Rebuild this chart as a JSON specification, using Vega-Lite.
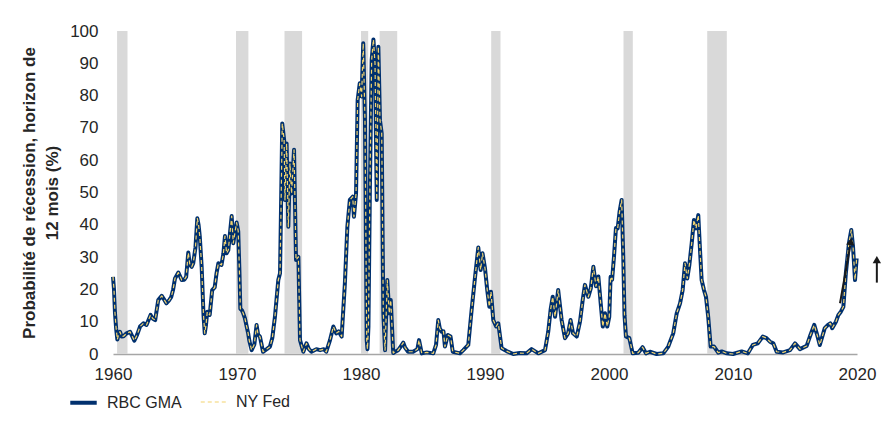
{
  "$schema": "https://vega.github.io/schema/vega-lite/v6.json",
  "description": "Probabilité de récession à 12 mois, RBC GMA vs NY Fed",
  "autosize": "none",
  "width": 744,
  "height": 323,
  "padding": {"left": 113, "top": 31, "right": 38, "bottom": 79},
  "datasets": {
    "recessions": [
      {"start": 1960.33, "end": 1961.17},
      {"start": 1969.92, "end": 1970.92},
      {"start": 1973.83, "end": 1975.25},
      {"start": 1980.0, "end": 1980.58},
      {"start": 1981.5, "end": 1982.92},
      {"start": 1990.5, "end": 1991.25},
      {"start": 2001.17, "end": 2001.92},
      {"start": 2007.92, "end": 2009.5}
    ],
    "prob": [
      {"t": 1960.0, "p": 23.9}, {"t": 1960.08, "p": 20}, {"t": 1960.16, "p": 12.7}, {"t": 1960.25, "p": 8},
      {"t": 1960.35, "p": 4.5}, {"t": 1960.45, "p": 6}, {"t": 1960.56, "p": 6.9}, {"t": 1960.7, "p": 5.4},
      {"t": 1960.85, "p": 5.5}, {"t": 1961.1, "p": 6.4}, {"t": 1961.37, "p": 6.9}, {"t": 1961.55, "p": 5.5},
      {"t": 1961.72, "p": 4.1}, {"t": 1961.95, "p": 6}, {"t": 1962.18, "p": 8.5}, {"t": 1962.45, "p": 9.5},
      {"t": 1962.7, "p": 9.0}, {"t": 1963.03, "p": 12.1}, {"t": 1963.2, "p": 11}, {"t": 1963.4, "p": 10.5},
      {"t": 1963.65, "p": 16.7}, {"t": 1963.93, "p": 18.0}, {"t": 1964.1, "p": 17}, {"t": 1964.3, "p": 15.7},
      {"t": 1964.5, "p": 16.5}, {"t": 1964.7, "p": 17.7}, {"t": 1964.85, "p": 20}, {"t": 1965.0, "p": 23.4},
      {"t": 1965.27, "p": 25.2}, {"t": 1965.54, "p": 22.9}, {"t": 1965.75, "p": 23}, {"t": 1965.9, "p": 23.9},
      {"t": 1966.07, "p": 31.4}, {"t": 1966.2, "p": 27.6}, {"t": 1966.35, "p": 27}, {"t": 1966.47, "p": 28.1},
      {"t": 1966.65, "p": 33}, {"t": 1966.8, "p": 42.0}, {"t": 1966.9, "p": 40}, {"t": 1967.0, "p": 36.3},
      {"t": 1967.15, "p": 27.0}, {"t": 1967.3, "p": 12}, {"t": 1967.4, "p": 6.4}, {"t": 1967.5, "p": 9},
      {"t": 1967.6, "p": 13.1}, {"t": 1967.8, "p": 12.1}, {"t": 1968.0, "p": 19.8}, {"t": 1968.2, "p": 20.6},
      {"t": 1968.35, "p": 25}, {"t": 1968.5, "p": 28.1}, {"t": 1968.75, "p": 27.6}, {"t": 1968.9, "p": 31},
      {"t": 1969.03, "p": 36.5}, {"t": 1969.16, "p": 31.2}, {"t": 1969.3, "p": 32.2}, {"t": 1969.45, "p": 38},
      {"t": 1969.57, "p": 42.7}, {"t": 1969.7, "p": 34.3}, {"t": 1969.85, "p": 38}, {"t": 1969.97, "p": 40.7},
      {"t": 1970.1, "p": 38}, {"t": 1970.2, "p": 25}, {"t": 1970.27, "p": 14}, {"t": 1970.4, "p": 13.5},
      {"t": 1970.5, "p": 12.6}, {"t": 1970.64, "p": 11}, {"t": 1970.9, "p": 6.4}, {"t": 1971.0, "p": 4},
      {"t": 1971.18, "p": 1.2}, {"t": 1971.4, "p": 3}, {"t": 1971.58, "p": 9.0}, {"t": 1971.7, "p": 6},
      {"t": 1971.85, "p": 5.4}, {"t": 1972.1, "p": 0.7}, {"t": 1972.4, "p": 1.5}, {"t": 1972.66, "p": 2.3},
      {"t": 1972.85, "p": 5}, {"t": 1973.06, "p": 11.5}, {"t": 1973.33, "p": 22.9}, {"t": 1973.47, "p": 25},
      {"t": 1973.55, "p": 45}, {"t": 1973.65, "p": 71.4}, {"t": 1973.8, "p": 66.3}, {"t": 1973.87, "p": 47.7},
      {"t": 1974.0, "p": 65.2}, {"t": 1974.14, "p": 39.4}, {"t": 1974.27, "p": 59.0}, {"t": 1974.4, "p": 49.7},
      {"t": 1974.6, "p": 63.2}, {"t": 1974.76, "p": 29.1}, {"t": 1974.95, "p": 30.1}, {"t": 1975.08, "p": 4.3},
      {"t": 1975.35, "p": 0.7}, {"t": 1975.6, "p": 3.3}, {"t": 1975.8, "p": 1.5}, {"t": 1976.0, "p": 0.7},
      {"t": 1976.4, "p": 1.5}, {"t": 1976.7, "p": 1.2}, {"t": 1977.0, "p": 1.5}, {"t": 1977.2, "p": 0.7},
      {"t": 1977.5, "p": 4.3}, {"t": 1977.77, "p": 8.5}, {"t": 1978.0, "p": 6.4}, {"t": 1978.2, "p": 7},
      {"t": 1978.44, "p": 5.4}, {"t": 1978.7, "p": 21.9}, {"t": 1978.9, "p": 39.4}, {"t": 1979.1, "p": 47.7},
      {"t": 1979.33, "p": 48.7}, {"t": 1979.43, "p": 42.5}, {"t": 1979.6, "p": 49.7}, {"t": 1979.73, "p": 78.6},
      {"t": 1979.9, "p": 83.8}, {"t": 1980.05, "p": 79.7}, {"t": 1980.18, "p": 96.2}, {"t": 1980.32, "p": 72.4},
      {"t": 1980.46, "p": 4.3}, {"t": 1980.52, "p": 1.5}, {"t": 1980.6, "p": 8.5}, {"t": 1980.72, "p": 51.8},
      {"t": 1980.86, "p": 91.0}, {"t": 1981.0, "p": 97.4}, {"t": 1981.13, "p": 90}, {"t": 1981.27, "p": 47.7},
      {"t": 1981.4, "p": 95.1}, {"t": 1981.53, "p": 72.4}, {"t": 1981.67, "p": 68.3}, {"t": 1981.8, "p": 12.6},
      {"t": 1981.94, "p": 1.2}, {"t": 1982.12, "p": 22.9}, {"t": 1982.28, "p": 12.6}, {"t": 1982.4, "p": 16.7},
      {"t": 1982.6, "p": 0.3}, {"t": 1982.8, "p": 0.8}, {"t": 1983.0, "p": 1.2}, {"t": 1983.2, "p": 2.3},
      {"t": 1983.41, "p": 3.5}, {"t": 1983.55, "p": 2}, {"t": 1983.8, "p": 0.7}, {"t": 1984.2, "p": 0.7},
      {"t": 1984.55, "p": 1.5}, {"t": 1984.68, "p": 4.3}, {"t": 1984.9, "p": 0.2}, {"t": 1985.3, "p": 0.5},
      {"t": 1985.83, "p": 0.2}, {"t": 1986.05, "p": 2.8}, {"t": 1986.23, "p": 10.5}, {"t": 1986.35, "p": 8},
      {"t": 1986.5, "p": 6.9}, {"t": 1986.65, "p": 7}, {"t": 1986.77, "p": 2.3}, {"t": 1987.0, "p": 5.9},
      {"t": 1987.22, "p": 5.4}, {"t": 1987.4, "p": 0.7}, {"t": 1987.98, "p": 0.2}, {"t": 1988.25, "p": 1.2},
      {"t": 1988.65, "p": 2.8}, {"t": 1988.92, "p": 13.6}, {"t": 1989.2, "p": 23.9}, {"t": 1989.46, "p": 33.0},
      {"t": 1989.65, "p": 26.0}, {"t": 1989.8, "p": 31.2}, {"t": 1990.0, "p": 26.5}, {"t": 1990.18, "p": 19.8},
      {"t": 1990.35, "p": 14.6}, {"t": 1990.48, "p": 19.3}, {"t": 1990.67, "p": 10.5}, {"t": 1990.9, "p": 8.5},
      {"t": 1991.07, "p": 9.5}, {"t": 1991.34, "p": 1.8}, {"t": 1991.74, "p": 0.9}, {"t": 1992.28, "p": 0},
      {"t": 1992.8, "p": 0.3}, {"t": 1993.35, "p": 0.2}, {"t": 1993.76, "p": 1.5}, {"t": 1994.3, "p": 0.2},
      {"t": 1994.84, "p": 1.2}, {"t": 1995.1, "p": 6.9}, {"t": 1995.3, "p": 14}, {"t": 1995.46, "p": 17.7},
      {"t": 1995.65, "p": 11.5}, {"t": 1995.9, "p": 19.8}, {"t": 1996.18, "p": 10.5}, {"t": 1996.45, "p": 4.9},
      {"t": 1996.7, "p": 6.4}, {"t": 1996.9, "p": 10.5}, {"t": 1997.1, "p": 6.4}, {"t": 1997.4, "p": 5.4},
      {"t": 1997.66, "p": 10}, {"t": 1997.88, "p": 16.7}, {"t": 1998.06, "p": 21.4}, {"t": 1998.33, "p": 17.7},
      {"t": 1998.53, "p": 20.3}, {"t": 1998.74, "p": 27.0}, {"t": 1998.95, "p": 21}, {"t": 1999.14, "p": 24},
      {"t": 1999.33, "p": 15.7}, {"t": 1999.5, "p": 8.5}, {"t": 1999.68, "p": 12.6}, {"t": 1999.86, "p": 8.5},
      {"t": 2000.02, "p": 11.5}, {"t": 2000.13, "p": 23.9}, {"t": 2000.25, "p": 23}, {"t": 2000.4, "p": 30},
      {"t": 2000.56, "p": 39}, {"t": 2000.7, "p": 38.9}, {"t": 2000.85, "p": 44}, {"t": 2001.02, "p": 47.7},
      {"t": 2001.15, "p": 30.1}, {"t": 2001.25, "p": 12}, {"t": 2001.37, "p": 5.4}, {"t": 2001.64, "p": 4.9},
      {"t": 2001.91, "p": 0.2}, {"t": 2002.36, "p": 0.4}, {"t": 2002.71, "p": 2.1}, {"t": 2002.98, "p": 0.2},
      {"t": 2003.3, "p": 0.7}, {"t": 2003.84, "p": 0}, {"t": 2004.38, "p": 0.2}, {"t": 2004.78, "p": 2.3},
      {"t": 2005.18, "p": 6.4}, {"t": 2005.46, "p": 12.6}, {"t": 2005.73, "p": 15.7}, {"t": 2005.94, "p": 19.8},
      {"t": 2006.13, "p": 28.1}, {"t": 2006.31, "p": 23.4}, {"t": 2006.48, "p": 27.6}, {"t": 2006.67, "p": 34.3},
      {"t": 2006.85, "p": 41.5}, {"t": 2007.02, "p": 38.9}, {"t": 2007.2, "p": 43.0}, {"t": 2007.34, "p": 32.2},
      {"t": 2007.47, "p": 22.9}, {"t": 2007.66, "p": 19.8}, {"t": 2007.82, "p": 17.7}, {"t": 2008.0, "p": 11.5},
      {"t": 2008.2, "p": 2.3}, {"t": 2008.47, "p": 2.3}, {"t": 2008.81, "p": 0.4}, {"t": 2009.09, "p": 0.8},
      {"t": 2009.49, "p": 0.2}, {"t": 2010.0, "p": 0}, {"t": 2010.7, "p": 0.8}, {"t": 2011.2, "p": 0.2},
      {"t": 2011.6, "p": 2.8}, {"t": 2012.0, "p": 3.3}, {"t": 2012.4, "p": 5.4}, {"t": 2012.7, "p": 4.9},
      {"t": 2012.98, "p": 3.8}, {"t": 2013.25, "p": 3.3}, {"t": 2013.52, "p": 0.7}, {"t": 2014.05, "p": 0.5},
      {"t": 2014.6, "p": 1.2}, {"t": 2015.0, "p": 3.3}, {"t": 2015.4, "p": 1.5}, {"t": 2015.94, "p": 2.5},
      {"t": 2016.2, "p": 5.4}, {"t": 2016.55, "p": 9.0}, {"t": 2016.75, "p": 6.4}, {"t": 2017.0, "p": 2.8},
      {"t": 2017.4, "p": 8.0}, {"t": 2017.66, "p": 9.0}, {"t": 2017.85, "p": 9.5}, {"t": 2018.0, "p": 8.0},
      {"t": 2018.3, "p": 10}, {"t": 2018.5, "p": 12.1}, {"t": 2018.7, "p": 13.1}, {"t": 2018.9, "p": 14.6},
      {"t": 2019.1, "p": 25}, {"t": 2019.35, "p": 34.3}, {"t": 2019.54, "p": 38.4}, {"t": 2019.68, "p": 33.2},
      {"t": 2019.84, "p": 22.9}, {"t": 2019.97, "p": 29.6}
    ],
    "arrows": [
      {"id": "a", "x": 2018.63, "y": 15.7, "x2": 2019.45, "y2": 33.5, "hx": 2019.5, "hy": 34.8},
      {"id": "b", "x": 2021.6, "y": 22.1, "x2": 2021.6, "y2": 28.2, "hx": 2021.6, "hy": 29.2}
    ],
    "series": [
      {"series": "RBC GMA"},
      {"series": "NY Fed"}
    ]
  },
  "layer": [
    {
      "data": {"name": "recessions"},
      "mark": {"type": "rect", "color": "#d9d9d9"},
      "encoding": {
        "x": {
          "field": "start",
          "type": "quantitative",
          "scale": {"domain": [1960, 2020], "nice": false, "zero": false},
          "axis": {
            "values": [1960, 1970, 1980, 1990, 2000, 2010, 2020],
            "tickCount": 20,
            "format": "d",
            "title": null,
            "ticks": false,
            "grid": false,
            "labelFlush": false,
            "labelOverlap": false,
            "domainColor": "#a6a6a6",
            "domainWidth": 1.5,
            "labelPadding": 12,
            "labelFontSize": 17
          }
        },
        "x2": {"field": "end"},
        "y": {
          "datum": 0,
          "type": "quantitative",
          "scale": {"domain": [0, 100], "nice": false},
          "axis": {
            "values": [0, 10, 20, 30, 40, 50, 60, 70, 80, 90, 100],
            "tickCount": 20,
            "title": ["Probabilité de récession, horizon de", "12 mois (%)"],
            "titleFontSize": 17,
            "titleFontWeight": "bold",
            "titlePadding": 8,
            "titleLineHeight": 23,
            "domain": false,
            "ticks": false,
            "grid": false,
            "labelFlush": false,
            "labelOverlap": false,
            "labelPadding": 15,
            "labelFontSize": 17
          }
        },
        "y2": {"datum": 100}
      }
    },
    {
      "data": {"name": "prob"},
      "mark": {"type": "line", "color": "#00306e", "strokeWidth": 4, "strokeJoin": "round"},
      "encoding": {
        "x": {"field": "t", "type": "quantitative", "scale": {"domain": [1960, 2020], "nice": false, "zero": false}},
        "y": {"field": "p", "type": "quantitative", "scale": {"domain": [0, 100], "nice": false}}
      }
    },
    {
      "data": {"name": "prob"},
      "mark": {"type": "line", "color": "#f3d46e", "strokeWidth": 1.2, "strokeDash": [4, 3], "strokeJoin": "round"},
      "encoding": {
        "x": {"field": "t", "type": "quantitative", "scale": {"domain": [1960, 2020], "nice": false, "zero": false}},
        "y": {"field": "p", "type": "quantitative", "scale": {"domain": [0, 100], "nice": false}}
      }
    },
    {
      "data": {"name": "series"},
      "mark": {"type": "line"},
      "encoding": {
        "x": {"datum": 1990, "type": "quantitative", "scale": {"domain": [1960, 2020], "nice": false, "zero": false}},
        "y": {"datum": 50, "type": "quantitative", "scale": {"domain": [0, 100], "nice": false}},
        "color": {
          "field": "series",
          "type": "nominal",
          "scale": {"domain": ["RBC GMA", "NY Fed"], "range": ["#00306e", "#f3d46e"]},
          "legend": {"title": null}
        },
        "strokeDash": {
          "field": "series",
          "type": "nominal",
          "scale": {"domain": ["RBC GMA", "NY Fed"], "range": [[1, 0], [4, 3]]},
          "legend": {"title": null}
        },
        "strokeWidth": {
          "field": "series",
          "type": "ordinal",
          "scale": {"type": "ordinal", "domain": ["RBC GMA", "NY Fed"], "range": [4, 1.2]},
          "legend": {"title": null}
        }
      }
    },
    {
      "data": {"name": "arrows"},
      "mark": {"type": "rule", "color": "#1a1a1a", "strokeWidth": 2},
      "encoding": {
        "x": {"field": "x", "type": "quantitative", "scale": {"domain": [1960, 2020], "nice": false, "zero": false}},
        "y": {"field": "y", "type": "quantitative", "scale": {"domain": [0, 100], "nice": false}},
        "x2": {"field": "x2"},
        "y2": {"field": "y2"}
      }
    },
    {
      "data": {"name": "arrows"},
      "mark": {"type": "point", "shape": "triangle-up", "filled": true, "color": "#1a1a1a", "opacity": 1, "size": 70},
      "encoding": {
        "x": {"field": "hx", "type": "quantitative", "scale": {"domain": [1960, 2020], "nice": false, "zero": false}},
        "y": {"field": "hy", "type": "quantitative", "scale": {"domain": [0, 100], "nice": false}},
        "angle": {
          "field": "id",
          "type": "nominal",
          "scale": {"domain": ["a", "b"], "range": [9, 0]},
          "legend": null
        }
      }
    }
  ],
  "config": {
    "font": "Liberation Sans",
    "view": {"stroke": null},
    "axis": {"labelColor": "#262626", "titleColor": "#262626", "labelFont": "Liberation Sans", "titleFont": "Liberation Sans"},
    "legend": {
      "orient": "none",
      "legendX": -45,
      "legendY": 356,
      "direction": "horizontal",
      "symbolType": "stroke",
      "symbolSize": 700,
      "labelFontSize": 16,
      "labelColor": "#262626",
      "labelOffset": 8,
      "columnPadding": 16,
      "labelFont": "Liberation Sans"
    }
  }
}
